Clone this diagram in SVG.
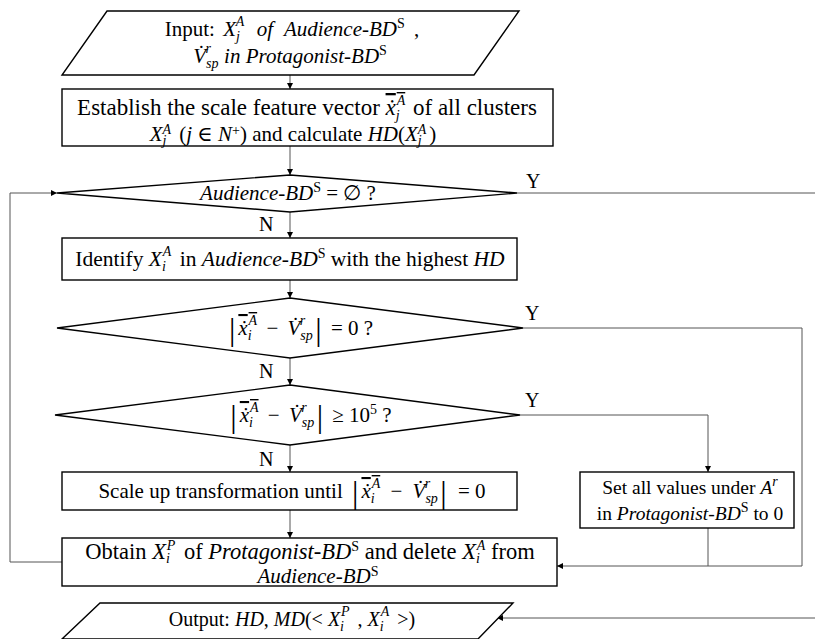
<svg xmlns="http://www.w3.org/2000/svg" width="815" height="639" viewBox="0 0 815 639" font-family="'Liberation Serif', 'DejaVu Serif', serif">
<defs>
<marker id="ah" viewBox="0 0 10 10" refX="10" refY="5" markerWidth="6" markerHeight="6" orient="auto" markerUnits="userSpaceOnUse"><path d="M0,0 L10,5 L0,10 z" fill="#000"/></marker>
<style>
.n{fill:#fff;stroke:#000;stroke-width:1.4}
.c{fill:none;stroke:#555;stroke-width:1}
.a{marker-end:url(#ah)}
text{font-family:'Liberation Serif','DejaVu Serif',serif;font-size:21px;fill:#000}
.m{text-anchor:middle}
.i{font-style:italic}
.s{font-size:14px}
.bar{font-size:32px}
.lb{font-size:20px}
</style>
</defs>
<rect width="815" height="639" fill="#fff"/>
<g id="connectors">
<path class="c a" d="M290,75 V89"/>
<path class="c a" d="M290,146 V175"/>
<path class="c a" d="M290,212 V238"/>
<path class="c a" d="M290,280 V298"/>
<path class="c a" d="M290,358 V385"/>
<path class="c a" d="M290,445 V472"/>
<path class="c a" d="M290,510 V538"/>
<path class="c" d="M517,193 H815"/>
<path class="c a" d="M62,562 H10 V193 H57"/>
<path class="c a" d="M523,328 H802 V566 H557"/>
<path class="c a" d="M520,415 H708 V472"/>
<path class="c" d="M708,528 V566"/>
<path class="c a" d="M815,618 H497"/>
<text x="526" y="188" class="lb">Y</text>
<text x="259" y="231" class="lb">N</text>
<text x="525" y="320" class="lb">Y</text>
<text x="259" y="378" class="lb">N</text>
<text x="525" y="407" class="lb">Y</text>
<text x="259" y="466" class="lb">N</text>
</g>
<g id="input">
<polygon class="n" points="107,11 519,11 474,75 62,75"/>
<text x="292" y="36" class="m">Input: <tspan class="i" dx="3">X</tspan><tspan class="s i" dy="5">j</tspan><tspan class="s i" dx="-4" dy="-15">A</tspan><tspan class="i" dy="10" dx="7"> of </tspan><tspan class="i" dx="6">Audience-BD</tspan><tspan class="s" dy="-8">S</tspan><tspan dy="8" dx="4"> ,</tspan></text>
<text x="290" y="63" class="m"><tspan class="i">V&#775;</tspan><tspan class="s i" dy="5">sp</tspan><tspan class="s i" dx="-13" dy="-15">r</tspan><tspan class="i" dy="10" dx="8"> in Protagonist-BD</tspan><tspan class="s" dy="-8">S</tspan></text>
</g>
<g id="establish">
<rect class="n" x="62" y="89" width="491" height="57"/>
<text x="307" y="115" class="m" style="font-size:23px">Establish the scale feature vector <tspan class="i" text-decoration="overline">x&#775;</tspan><tspan class="s i" dy="5">j</tspan><tspan class="s i" dx="-3" dy="-15" text-decoration="overline">A</tspan><tspan dy="10" dx="2"> of all clusters</tspan></text>
<text x="293" y="141" class="m"><tspan class="i">X</tspan><tspan class="s i" dy="4">j</tspan><tspan class="s i" dx="-4" dy="-11">A</tspan><tspan dy="7" dx="3"> (</tspan><tspan class="i">j</tspan> ∈ <tspan class="i">N</tspan><tspan class="s" dy="-6">+</tspan><tspan dy="6">) and calculate </tspan><tspan class="i">HD</tspan>(<tspan class="i">X</tspan><tspan class="s i" dy="4">j</tspan><tspan class="s i" dx="-4" dy="-11">A</tspan><tspan dy="7" dx="3">)</tspan></text>
</g>
<g id="dec1">
<polygon class="n" points="290,175 517,193 290,212 57,193"/>
<text x="288" y="200" class="m"><tspan class="i">Audience-BD</tspan><tspan class="s" dy="-8">S</tspan><tspan dy="8"> = ∅ ?</tspan></text>
</g>
<g id="identify">
<rect class="n" x="62" y="238" width="455" height="42"/>
<text x="290" y="266" class="m" style="font-size:21.5px">Identify <tspan class="i">X</tspan><tspan class="s i" dy="5">i</tspan><tspan class="s i" dx="-3" dy="-15">A</tspan><tspan dy="10" dx="3"> in </tspan><tspan class="i">Audience-BD</tspan><tspan class="s" dy="-8">S</tspan><tspan dy="8"> with the highest </tspan><tspan class="i">HD</tspan></text>
</g>
<g id="dec2">
<polygon class="n" points="290,298 523,328 290,358 57,328"/>
<text x="301" y="335" class="m"><tspan class="bar" dy="5">|</tspan><tspan class="i" dy="-5" dx="3" text-decoration="overline">x&#775;</tspan><tspan class="s i" dy="5">i</tspan><tspan class="s i" dx="-3" dy="-15" text-decoration="overline">A</tspan><tspan dy="10" dx="4"> − </tspan><tspan class="i" dx="4">V&#775;</tspan><tspan class="s i" dy="5">sp</tspan><tspan class="s i" dx="-13" dy="-15">r</tspan><tspan class="bar" dy="15" dx="10">|</tspan><tspan dy="-5" dx="4"> = 0 ?</tspan></text>
</g>
<g id="dec3">
<polygon class="n" points="290,385 520,415 290,445 55,415"/>
<text x="311" y="422" class="m"><tspan class="bar" dy="5">|</tspan><tspan class="i" dy="-5" dx="3" text-decoration="overline">x&#775;</tspan><tspan class="s i" dy="5">i</tspan><tspan class="s i" dx="-3" dy="-15" text-decoration="overline">A</tspan><tspan dy="10" dx="4"> − </tspan><tspan class="i" dx="4">V&#775;</tspan><tspan class="s i" dy="5">sp</tspan><tspan class="s i" dx="-13" dy="-15">r</tspan><tspan class="bar" dy="15" dx="10">|</tspan><tspan dy="-5" dx="4"> ≥ 10</tspan><tspan class="s" dy="-8">5</tspan><tspan dy="8"> ?</tspan></text>
</g>
<g id="scaleup">
<rect class="n" x="62" y="472" width="455" height="38"/>
<text x="292" y="498" class="m">Scale up transformation until <tspan class="bar" dy="5" dx="4">|</tspan><tspan class="i" dy="-5" dx="3" text-decoration="overline">x&#775;</tspan><tspan class="s i" dy="5">i</tspan><tspan class="s i" dx="-3" dy="-15" text-decoration="overline">A</tspan><tspan dy="10" dx="5"> − </tspan><tspan class="i" dx="5">V&#775;</tspan><tspan class="s i" dy="5">sp</tspan><tspan class="s i" dx="-13" dy="-15">r</tspan><tspan class="bar" dy="15" dx="10">|</tspan><tspan dy="-5" dx="6"> = 0</tspan></text>
</g>
<g id="setzero">
<rect class="n" x="580" y="472" width="214" height="56"/>
<text x="690" y="494" class="m" style="font-size:19.5px">Set all values under <tspan class="i">A</tspan><tspan class="s i" dy="-8">r</tspan></text>
<text x="690" y="520" class="m" style="font-size:19.5px">in <tspan class="i">Protagonist-BD</tspan><tspan class="s" dy="-8">S</tspan><tspan dy="8"> to 0</tspan></text>
</g>
<g id="obtain">
<rect class="n" x="62" y="538" width="495" height="48"/>
<text x="310" y="559" class="m" style="font-size:22.5px">Obtain <tspan class="i">X</tspan><tspan class="s i" dy="4">i</tspan><tspan class="s i" dx="-3" dy="-13">P</tspan><tspan dy="9" dx="3"> of </tspan><tspan class="i">Protagonist-BD</tspan><tspan class="s" dy="-8">S</tspan><tspan dy="8"> and delete </tspan><tspan class="i">X</tspan><tspan class="s i" dy="4">i</tspan><tspan class="s i" dx="-3" dy="-13">A</tspan><tspan dy="9"> from</tspan></text>
<text x="318" y="583" class="m"><tspan class="i">Audience-BD</tspan><tspan class="s" dy="-7">S</tspan></text>
</g>
<g id="output">
<polygon class="n" points="100,603 513,603 478,639 62,639"/>
<text x="292" y="626" class="m" style="font-size:20px">Output: <tspan class="i">HD</tspan>, <tspan class="i">MD</tspan>(&lt; <tspan class="i">X</tspan><tspan class="s i" dy="5">i</tspan><tspan class="s i" dx="-3" dy="-15">P</tspan><tspan dy="10" dx="3"> , </tspan><tspan class="i">X</tspan><tspan class="s i" dy="5">i</tspan><tspan class="s i" dx="-3" dy="-15">A</tspan><tspan dy="10" dx="3"> &gt;)</tspan></text>
</g>
</svg>
